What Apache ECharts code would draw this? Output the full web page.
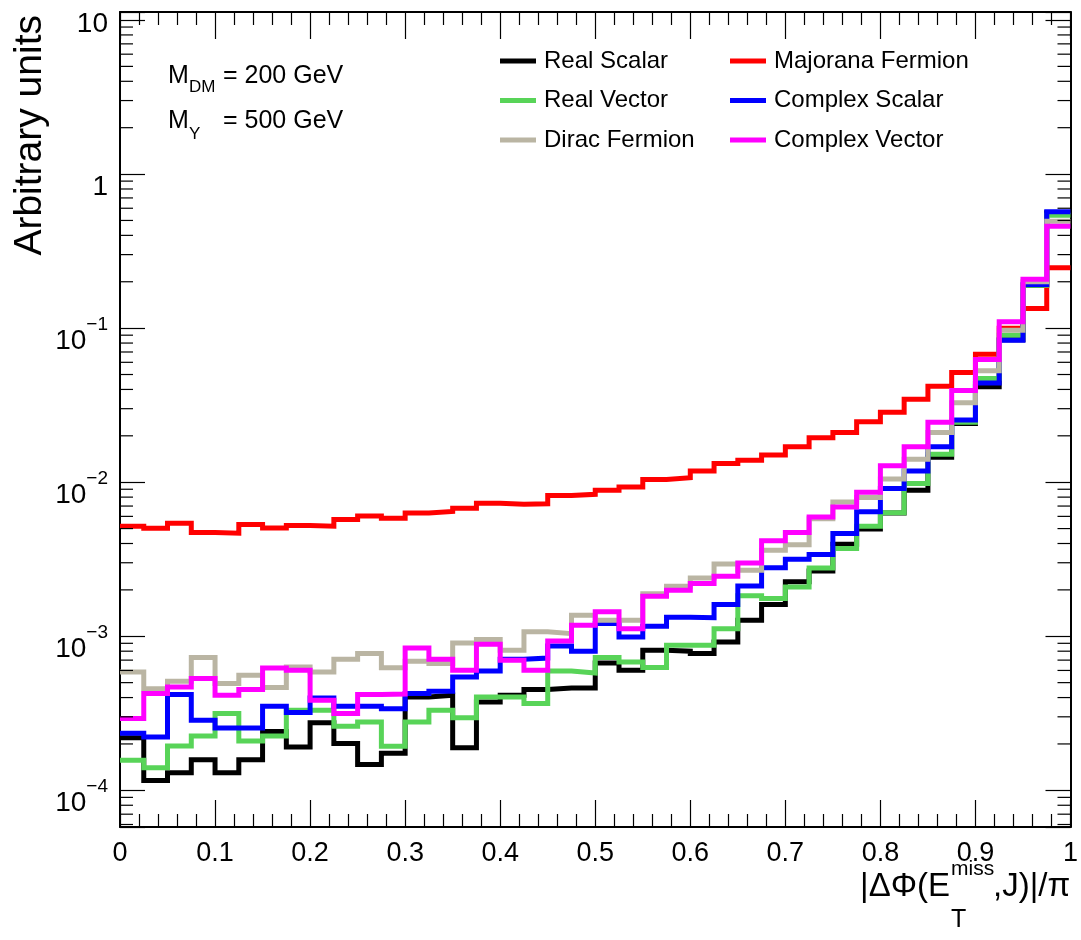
<!DOCTYPE html>
<html>
<head>
<meta charset="utf-8">
<script src="https://cdn.jsdelivr.net/npm/echarts@6/dist/echarts.min.js"></script>
<style>
html,body{margin:0;padding:0;background:#fff;}
#chart{width:1081px;height:940px;}
</style>
</head>
<body>
<div id="chart"></div>
<script>
const binEdges = [0,0.025,0.05,0.075,0.1,0.125,0.15,0.175,0.2,0.225,0.25,0.275,0.3,0.325,0.35,0.375,0.4,0.425,0.45,0.475,0.5,0.525,0.55,0.575,0.6,0.625,0.65,0.675,0.7,0.725,0.75,0.775,0.8,0.825,0.85,0.875,0.9,0.925,0.95,0.975,1];

const realScalar = [2.19e-4,1.16e-4,1.30e-4,1.58e-4,1.30e-4,1.58e-4,2.41e-4,1.91e-4,2.75e-4,2.01e-4,1.47e-4,1.74e-4,4.04e-4,4.14e-4,1.89e-4,3.74e-4,4.14e-4,4.51e-4,4.62e-4,4.62e-4,6.71e-4,6.01e-4,8.11e-4,8.0e-4,7.73e-4,9.18e-4,1.27e-3,1.61e-3,2.26e-3,2.65e-3,3.95e-3,4.97e-3,6.3e-3,8.87e-3,1.45e-2,2.40e-2,4.16e-2,8.4e-2,0.19,0.56];
const majorana = [5.18e-3,5.02e-3,5.42e-3,4.71e-3,4.67e-3,5.31e-3,5.05e-3,5.23e-3,5.18e-3,5.73e-3,6.04e-3,5.84e-3,6.3e-3,6.45e-3,6.78e-3,7.3e-3,7.2e-3,7.25e-3,8.2e-3,8.35e-3,8.85e-3,9.3e-3,1.04e-2,1.07e-2,1.18e-2,1.32e-2,1.39e-2,1.50e-2,1.70e-2,1.94e-2,2.10e-2,2.47e-2,2.84e-2,3.46e-2,4.2e-2,5.15e-2,6.78e-2,0.1,0.134,0.247];
const realVector = [1.57e-4,1.40e-4,1.94e-4,2.25e-4,3.15e-4,2.09e-4,2.25e-4,3.31e-4,3.31e-4,2.61e-4,2.78e-4,1.93e-4,2.78e-4,3.31e-4,2.96e-4,4.04e-4,4.04e-4,3.66e-4,5.95e-4,5.78e-4,7.27e-4,6.81e-4,6.27e-4,8.75e-4,8.75e-4,1.12e-3,1.83e-3,1.76e-3,2.09e-3,2.77e-3,3.71e-3,5.18e-3,6.33e-3,9.8e-3,1.52e-2,2.45e-2,4.71e-2,9.0e-2,0.19,0.54];
const complexScalar = [2.35e-4,2.22e-4,4.18e-4,2.85e-4,2.54e-4,2.54e-4,3.51e-4,3.20e-4,3.97e-4,3.51e-4,3.51e-4,3.38e-4,4.25e-4,4.4e-4,5.44e-4,5.95e-4,7.1e-4,7.22e-4,8.65e-4,8.0e-4,1.21e-3,9.9e-4,1.16e-3,1.33e-3,1.32e-3,1.61e-3,2.12e-3,2.78e-3,3.16e-3,3.39e-3,4.65e-3,6.42e-3,9.1e-3,1.18e-2,1.7e-2,2.53e-2,4.4e-2,8.35e-2,0.192,0.569];
const diracFermion = [5.86e-4,4.57e-4,5.1e-4,7.28e-4,4.93e-4,5.58e-4,4.65e-4,6.32e-4,5.86e-4,7.1e-4,7.73e-4,6.25e-4,6.89e-4,6.65e-4,9.04e-4,9.52e-4,8.11e-4,1.07e-3,1.04e-3,1.37e-3,1.27e-3,1.27e-3,1.89e-3,2.11e-3,2.39e-3,2.94e-3,2.68e-3,3.62e-3,3.93e-3,5.8e-3,7.43e-3,7.95e-3,1.05e-2,1.41e-2,2.1e-2,3.28e-2,5.28e-2,9.7e-2,0.2,0.494];
const complexVector = [2.92e-4,4.25e-4,4.69e-4,5.31e-4,4.14e-4,4.51e-4,6.22e-4,6.01e-4,3.84e-4,3.15e-4,4.18e-4,4.22e-4,8.4e-4,7.1e-4,6.01e-4,8.87e-4,6.98e-4,6.01e-4,9.32e-4,1.18e-3,1.44e-3,1.12e-3,1.82e-3,1.99e-3,2.2e-3,2.45e-3,2.99e-3,4.17e-3,4.72e-3,5.94e-3,6.9e-3,8.62e-3,1.28e-2,1.70e-2,2.45e-2,3.93e-2,6.26e-2,0.110,0.208,0.459];

const seriesNames = ['Real Scalar','Majorana Fermion','Real Vector','Complex Scalar','Dirac Fermion','Complex Vector'];
const seriesColors = ['#000000','#ff0000','#58d458','#0000ff','#bab5a3','#ff00ff'];
const seriesValues = [realScalar, majorana, realVector, complexScalar, diracFermion, complexVector];

const yMin = 5.78e-5, yMax = 11.27;
const yMinorMantissas = [2,3,4,5,6,7,8,9];
const yMinorExponents = [-5,-4,-3,-2,-1,0];

const FONT = '"Liberation Sans", Arial, Helvetica, sans-serif';

const yMinorTicks = [];
yMinorExponents.forEach(e => yMinorMantissas.forEach(m => {
  const v = m * Math.pow(10, e);
  if (v > yMin && v < yMax) yMinorTicks.push([0, v]);
}));

function histData(vals) {
  const d = vals.map((v, i) => [binEdges[i], v]);
  d.push([binEdges[binEdges.length - 1], vals[vals.length - 1]]);
  return d;
}

function yLabel(v) {
  const l = Math.log10(v);
  const e = Math.round(l);
  if (Math.abs(l - e) > 1e-6) return '';
  if (e === 0) return '{b|1}';
  if (e === 1) return '{t|10}';
  return '{b|10}{s|\u2212' + (-e) + '}';
}

const chart = echarts.init(document.getElementById('chart'), null, {renderer: 'canvas'});

const lineSeries = seriesNames.map((name, k) => ({
  name: name,
  type: 'line',
  step: 'end',
  data: histData(seriesValues[k]),
  showSymbol: false,
  symbol: 'none',
  color: seriesColors[k],
  lineStyle: {width: 5, color: seriesColors[k], join: 'miter', cap: 'butt'},
  emphasis: {disabled: true},
  z: 3 + k,
  animation: false
}));

const legendText = {fontSize: 24, fontFamily: FONT, color: '#000', lineHeight: 24, padding: [0,0,0,3]};

const option = {
  animation: false,
  backgroundColor: '#ffffff',
  textStyle: {fontFamily: FONT},
  grid: {left: 120, right: 7, top: 12, bottom: 113, containLabel: false},
  legend: [
    {
      data: ['Real Scalar','Real Vector','Dirac Fermion'],
      orient: 'vertical', left: 495, top: 44,
      icon: 'rect', itemWidth: 36, itemHeight: 5, itemGap: 15.5,
      selectedMode: false,
      textStyle: legendText
    },
    {
      data: ['Majorana Fermion','Complex Scalar','Complex Vector'],
      orient: 'vertical', left: 725, top: 44,
      icon: 'rect', itemWidth: 36, itemHeight: 5, itemGap: 15.5,
      selectedMode: false,
      textStyle: legendText
    }
  ],
  xAxis: [
    {
      type: 'value', min: 0, max: 1, interval: 0.1, position: 'bottom',
      axisLine: {show: true, onZero: false, lineStyle: {color: '#000', width: 2}},
      axisTick: {show: true, inside: true, length: 27, lineStyle: {color: '#000', width: 1.2}},
      minorTick: {show: true, splitNumber: 5, length: 13, lineStyle: {color: '#000', width: 1.2}},
      splitLine: {show: false},
      axisLabel: {show: true, color: '#000', fontSize: 27, fontFamily: FONT, margin: 13,
        formatter: v => (v === 0 ? '0' : (v === 1 ? '1' : v.toFixed(1)))}
    },
    {
      type: 'value', min: 0, max: 1, interval: 0.1, position: 'top',
      axisLine: {show: true, onZero: false, lineStyle: {color: '#000', width: 2}},
      axisTick: {show: true, inside: true, length: 27, lineStyle: {color: '#000', width: 1.2}},
      minorTick: {show: true, splitNumber: 5, length: 13, lineStyle: {color: '#000', width: 1.2}},
      splitLine: {show: false},
      axisLabel: {show: false}
    }
  ],
  yAxis: [
    {
      type: 'log', min: yMin, max: yMax, logBase: 10, position: 'left',
      axisLine: {show: true, onZero: false, lineStyle: {color: '#000', width: 2}},
      axisTick: {show: true, inside: true, length: 25, lineStyle: {color: '#000', width: 1.2}},
      splitLine: {show: false},
      axisLabel: {
        show: true, color: '#000', margin: 12, fontFamily: FONT,
        padding: [14, 0, 0, 0],
        formatter: yLabel,
        rich: {
          b: {fontSize: 28, fontFamily: FONT, color: '#000', lineHeight: 40, verticalAlign: 'bottom'},
          t: {fontSize: 28, fontFamily: FONT, color: '#000', lineHeight: 40, padding: [0, 0, 6, 0]},
          s: {fontSize: 19, fontFamily: FONT, color: '#000', lineHeight: 18, verticalAlign: 'top'}
        }
      }
    },
    {
      type: 'log', min: yMin, max: yMax, logBase: 10, position: 'right',
      axisLine: {show: true, onZero: false, lineStyle: {color: '#000', width: 2}},
      axisTick: {show: true, inside: true, length: 25, lineStyle: {color: '#000', width: 1.2}},
      splitLine: {show: false},
      axisLabel: {show: false}
    }
  ],
  series: lineSeries.concat([{
    name: 'yMinorTicks',
    type: 'custom',
    xAxisIndex: 0, yAxisIndex: 0,
    silent: true,
    clip: false,
    z: 20,
    data: yMinorTicks,
    encode: {x: 0, y: 1},
    renderItem: function (params, api) {
      const v = api.value(1);
      const pL = api.coord([0, v]);
      const pR = api.coord([1, v]);
      return {
        type: 'group',
        children: [
          {type: 'line', shape: {x1: pL[0], y1: pL[1], x2: pL[0] + 13, y2: pL[1]}, style: {stroke: '#000', lineWidth: 1.2}},
          {type: 'line', shape: {x1: pR[0], y1: pR[1], x2: pR[0] - 13, y2: pR[1]}, style: {stroke: '#000', lineWidth: 1.2}}
        ]
      };
    }
  }]),
  graphic: [
    {type: 'text', x: 30, y: 15, rotation: Math.PI / 2,
      style: {text: 'Arbitrary units', font: '39px ' + FONT, fill: '#000', align: 'right', verticalAlign: 'middle'}},
    {type: 'text', x: 168, y: 76, style: {text: 'M', font: '25px ' + FONT, fill: '#000', align: 'left', verticalAlign: 'middle'}},
    {type: 'text', x: 189, y: 87, style: {text: 'DM', font: '17px ' + FONT, fill: '#000', align: 'left', verticalAlign: 'middle'}},
    {type: 'text', x: 223, y: 76, style: {text: '= 200 GeV', font: '25px ' + FONT, fill: '#000', align: 'left', verticalAlign: 'middle'}},
    {type: 'text', x: 168, y: 121, style: {text: 'M', font: '25px ' + FONT, fill: '#000', align: 'left', verticalAlign: 'middle'}},
    {type: 'text', x: 189, y: 134, style: {text: 'Y', font: '17px ' + FONT, fill: '#000', align: 'left', verticalAlign: 'middle'}},
    {type: 'text', x: 223, y: 121, style: {text: '= 500 GeV', font: '25px ' + FONT, fill: '#000', align: 'left', verticalAlign: 'middle'}},
    {type: 'text', x: 950, y: 887, style: {text: '|\u0394\u03A6(E', font: '33px ' + FONT, fill: '#000', align: 'right', verticalAlign: 'middle'}},
    {type: 'text', x: 951, y: 869, style: {text: 'miss', font: '21px ' + FONT, fill: '#000', align: 'left', verticalAlign: 'middle'}},
    {type: 'text', x: 951, y: 920, style: {text: 'T', font: '25px ' + FONT, fill: '#000', align: 'left', verticalAlign: 'middle'}},
    {type: 'text', x: 993, y: 887, style: {text: ',J)|/\u03C0', font: '33px ' + FONT, fill: '#000', align: 'left', verticalAlign: 'middle'}}
  ]
};

chart.setOption(option);
</script>
</body>
</html>
